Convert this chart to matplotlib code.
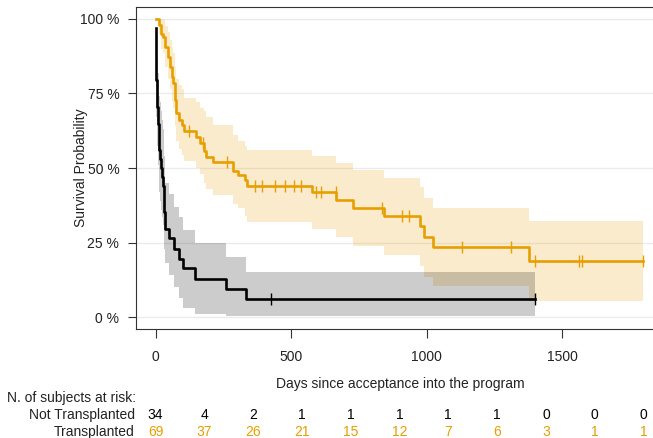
import numpy as np
import matplotlib.pyplot as plt
from matplotlib.transforms import blended_transform_factory

plt.rcParams['font.family'] = ['Liberation Sans', 'DejaVu Sans']

W, H = 653, 438

# Not Transplanted: step times (days), survival after step, 95% CI
nt_time = [0, 1, 2, 3, 5, 7, 9, 12, 14, 17, 19, 23, 27, 30, 33, 35,
           49, 68, 86, 102, 145, 259, 335]
nt_surv = [0.971, 0.912, 0.853, 0.794, 0.735, 0.706, 0.647, 0.618, 0.559, 0.529,
           0.500, 0.471, 0.441, 0.412, 0.353, 0.297,
           0.264, 0.230, 0.196, 0.163, 0.129, 0.095, 0.062]
nt_upper = [1.0, 1.0, 0.98, 0.94, 0.89, 0.87, 0.82, 0.79, 0.74, 0.72, 0.69, 0.66,
            0.63, 0.60, 0.54, 0.45,
            0.414, 0.369, 0.334, 0.291, 0.247, 0.202, 0.151]
nt_lower = [0.915, 0.82, 0.74, 0.67, 0.61, 0.575, 0.51, 0.48, 0.42, 0.39, 0.36,
            0.335, 0.31, 0.28, 0.23, 0.18,
            0.14, 0.10, 0.063, 0.029, 0.009, 0.003, 0.002]
nt_censor = [425, 1400]
nt_end = 1400

# Transplanted
tr_time = [0, 12, 19, 28, 34, 46, 52, 59, 65, 71, 77, 87, 96, 105, 148, 165, 179,
           188, 212, 285, 304, 330, 337, 578, 667, 728, 843, 975, 989, 1024, 1377]
tr_surv = [1.0, 0.980, 0.950, 0.940, 0.907, 0.873, 0.840, 0.806, 0.784, 0.728,
           0.683, 0.661, 0.644, 0.625, 0.603, 0.584, 0.556, 0.537, 0.521, 0.490,
           0.476, 0.459, 0.439, 0.418, 0.394, 0.366, 0.338, 0.305, 0.269, 0.235, 0.188]
tr_upper = [1.0, 1.0, 1.0, 0.995, 0.975, 0.955, 0.93, 0.905, 0.885, 0.84, 0.80,
            0.78, 0.765, 0.734, 0.722, 0.70, 0.69, 0.672, 0.644, 0.61, 0.59, 0.575,
            0.56, 0.541, 0.517, 0.492, 0.465, 0.435, 0.401, 0.367, 0.321]
tr_lower = [1.0, 0.95, 0.90, 0.885, 0.84, 0.80, 0.765, 0.725, 0.70, 0.64, 0.59,
            0.565, 0.545, 0.525, 0.50, 0.48, 0.45, 0.43, 0.41, 0.38, 0.365, 0.34,
            0.32, 0.295, 0.267, 0.239, 0.207, 0.170, 0.134, 0.103, 0.053]
tr_censor = [124, 174, 262, 366, 391, 440, 477, 510, 538, 591, 612, 665, 837,
             909, 934, 1132, 1313, 1399, 1561, 1573, 1799]
tr_end = 1799

# risk table
risk_times = [0, 180, 360, 540, 720, 900, 1080, 1260, 1440, 1620, 1800]
nt_risk = [34, 4, 2, 1, 1, 1, 1, 1, 0, 0, 0]
tr_risk = [69, 37, 26, 21, 15, 12, 7, 6, 3, 1, 1]

x_ticks = [0, 500, 1000, 1500]
y_ticks = [0, 0.25, 0.5, 0.75, 1.0]
y_labels = ['0 %', '25 %', '50 %', '75 %', '100 %']

ORANGE = '#E69F00'
BLACK = '#000000'

fig = plt.figure(figsize=(W / 100, H / 100), dpi=100)
ax = fig.add_axes([136 / W, 1 - 329 / H, (663 - 136) / W, (329 - 7) / H])


def draw_group(times, surv, lo, up, end, censor, color):
    t = np.append(times, end)
    s = np.append(surv, surv[-1])
    l = np.append(lo, lo[-1])
    u = np.append(up, up[-1])
    ax.fill_between(t, l, u, step='post', color=color, alpha=0.2, lw=0)
    ax.step(t, s, where='post', color=color, lw=1.9)
    idx = np.searchsorted(times, censor, side='right') - 1
    ax.plot(censor, np.array(surv)[idx], ls='none', marker='|', ms=8,
            mew=1.0, color=color)


draw_group(tr_time, tr_surv, tr_lower, tr_upper, tr_end, tr_censor, ORANGE)
draw_group(nt_time, nt_surv, nt_lower, nt_upper, nt_end, nt_censor, BLACK)

ax.set_xlim(-72, 1872)
ax.set_ylim(-0.04, 1.04)
ax.set_xticks(x_ticks)
ax.set_xticklabels([str(v) for v in x_ticks])
ax.set_yticks(y_ticks)
ax.set_yticklabels(y_labels)
ax.yaxis.grid(True, color='#EBEBEB', lw=1.0)
ax.set_axisbelow(True)
for side in ['left', 'top', 'bottom']:
    ax.spines[side].set_color('#333333')
    ax.spines[side].set_linewidth(0.8)
ax.spines['right'].set_visible(False)
ax.tick_params(axis='x', length=6.5, width=0.8, color='#333333', pad=8.5,
               labelsize=10, labelcolor='#222222')
ax.tick_params(axis='y', length=6, width=0.8, color='#333333', pad=6,
               labelsize=10, labelcolor='#222222')

fig.text(400 / W, 1 - 384 / H, 'Days since acceptance into the program',
         ha='center', va='center', fontsize=10, color='#222222')
fig.text(81 / W, 1 - 168 / H, 'Survival Probability', rotation=90,
         ha='center', va='center', fontsize=10, color='#222222')

fig.text(136 / W, 1 - 398 / H, 'N. of subjects at risk:', ha='right',
         va='center', fontsize=10, color='#222222')
fig.text(135 / W, 1 - 415 / H, 'Not Transplanted', ha='right', va='center',
         fontsize=10, color='#222222')
fig.text(135 / W, 1 - 432 / H, 'Transplanted', ha='right', va='center',
         fontsize=10, color='#222222')

trans = blended_transform_factory(ax.transData, fig.transFigure)
for t, n1, n2 in zip(risk_times, nt_risk, tr_risk):
    ax.text(t, 1 - 415 / H, str(n1), transform=trans, ha='center',
            va='center', fontsize=10, color=BLACK, clip_on=False)
    ax.text(t, 1 - 432 / H, str(n2), transform=trans, ha='center',
            va='center', fontsize=10, color=ORANGE, clip_on=False)

fig.savefig('out.png', dpi=100)
